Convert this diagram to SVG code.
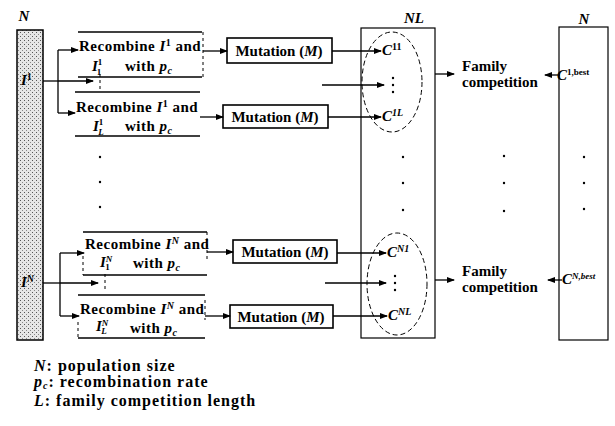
<svg xmlns="http://www.w3.org/2000/svg" width="615" height="426" viewBox="0 0 615 426">
<style>
.t{font-family:"Liberation Serif",serif;font-weight:bold;font-size:15px;fill:#000}
.r{letter-spacing:0.5px}
.i{font-style:italic}
.s{font-size:10px}
.ss{font-size:9px}
.lg{font-family:"Liberation Serif",serif;font-weight:bold;font-size:16px;letter-spacing:1px;fill:#000}
.ln{stroke:#000;stroke-width:1.3;fill:none}
.ar{stroke:#000;stroke-width:1.3;fill:none;marker-end:url(#ah)}
.bx{stroke:#000;stroke-width:1.6;fill:none}
.sd{stroke:#000;stroke-width:1;fill:none;stroke-dasharray:3 3}
.el{stroke:#000;stroke-width:1;fill:none;stroke-dasharray:5 3}
.dot{fill:#000}
</style>
<defs>
<marker id="ah" viewBox="0 0 8 6" refX="7" refY="3" markerWidth="8" markerHeight="6" markerUnits="userSpaceOnUse" orient="auto">
<path d="M0,0 L8,3 L0,6 z" fill="#000"/>
</marker>
<pattern id="stip" width="4" height="4" patternUnits="userSpaceOnUse">
<rect width="4" height="4" fill="#e6e6e6"/>
<rect x="0" y="0" width="1" height="1" fill="#555"/>
<rect x="2" y="2" width="1" height="1" fill="#888"/>
</pattern>
</defs>
<rect width="615" height="426" fill="#fff"/>

<g id="population">
<rect x="17" y="30" width="26" height="310" fill="url(#stip)" stroke="#000" stroke-width="1.5"/>
<text class="t i" x="24" y="21" text-anchor="middle">N</text>
<text class="t" x="21" y="85"><tspan class="i">I</tspan><tspan class="s" dy="-5">1</tspan></text>
<text class="t" x="21" y="287"><tspan class="i">I</tspan><tspan class="s i" dy="-5">N</tspan></text>
</g>

<g id="recomb1">
<line class="bx" x1="78" y1="32" x2="202" y2="32"/>
<line class="bx" x1="78" y1="77" x2="202" y2="77"/>
<line class="sd" x1="203" y1="32" x2="203" y2="77"/>
<text class="t r" x="79" y="51">Recombine <tspan class="i">I</tspan><tspan class="s" dy="-5">1</tspan><tspan dy="5"> and</tspan></text>
<text class="t" x="92" y="71"><tspan class="i">I</tspan><tspan class="ss" dy="-6">1</tspan><tspan class="ss" dx="-5" dy="10">1</tspan></text>
<text class="t r" x="125" y="71">with <tspan class="i">p</tspan><tspan class="s i" dy="3">c</tspan></text>
</g>
<g id="recomb2">
<line class="bx" x1="75" y1="92" x2="200" y2="92"/>
<line class="bx" x1="75" y1="136" x2="200" y2="136"/>
<text class="t r" x="76" y="112">Recombine <tspan class="i">I</tspan><tspan class="s" dy="-5">1</tspan><tspan dy="5"> and</tspan></text>
<text class="t" x="93" y="131"><tspan class="i">I</tspan><tspan class="ss" dy="-6">1</tspan><tspan class="ss i" dx="-5" dy="10">L</tspan></text>
<text class="t r" x="125" y="131">with <tspan class="i">p</tspan><tspan class="s i" dy="3">c</tspan></text>
</g>
<g id="recomb3">
<line class="bx" x1="83" y1="232" x2="207" y2="232"/>
<line class="bx" x1="83" y1="275" x2="207" y2="275"/>
<line class="sd" x1="207" y1="232" x2="207" y2="262"/>
<line class="sd" x1="83" y1="256" x2="83" y2="275"/>
<text class="t r" x="85" y="249">Recombine <tspan class="i">I</tspan><tspan class="s i" dy="-5">N</tspan><tspan dy="5"> and</tspan></text>
<text class="t" x="100" y="267"><tspan class="i">I</tspan><tspan class="ss i" dy="-5">N</tspan><tspan class="ss" dx="-7" dy="8">1</tspan></text>
<text class="t r" x="133" y="268">with <tspan class="i">p</tspan><tspan class="s i" dy="3">c</tspan></text>
</g>
<g id="recomb4">
<line class="bx" x1="78" y1="295" x2="205" y2="295"/>
<line class="bx" x1="78" y1="338" x2="205" y2="338"/>
<line class="sd" x1="205" y1="300" x2="205" y2="320"/>
<line class="sd" x1="78" y1="322" x2="78" y2="338"/>
<text class="t r" x="80" y="314">Recombine <tspan class="i">I</tspan><tspan class="s i" dy="-5">N</tspan><tspan dy="5"> and</tspan></text>
<text class="t" x="96" y="331"><tspan class="i">I</tspan><tspan class="ss i" dy="-5">N</tspan><tspan class="ss i" dx="-7" dy="8">L</tspan></text>
<text class="t r" x="130" y="333">with <tspan class="i">p</tspan><tspan class="s i" dy="3">c</tspan></text>
</g>

<g id="mut1"><rect class="bx" x="227" y="38" width="105" height="25"/><text class="t" x="279" y="56" text-anchor="middle">Mutation (<tspan class="i">M</tspan>)</text></g>
<g id="mut2"><rect class="bx" x="223" y="105" width="105" height="23"/><text class="t" x="275" y="122" text-anchor="middle">Mutation (<tspan class="i">M</tspan>)</text></g>
<g id="mut3"><rect class="bx" x="233" y="240" width="104" height="23"/><text class="t" x="285" y="257" text-anchor="middle">Mutation (<tspan class="i">M</tspan>)</text></g>
<g id="mut4"><rect class="bx" x="230" y="305" width="103" height="23"/><text class="t" x="281" y="322" text-anchor="middle">Mutation (<tspan class="i">M</tspan>)</text></g>

<g id="offspring">
<rect x="361" y="28" width="74" height="310" fill="none" stroke="#000" stroke-width="1.2"/>
<text class="t i" x="414" y="23" text-anchor="middle">NL</text>
<ellipse class="el" cx="392" cy="82" rx="30" ry="50"/>
<ellipse class="el" cx="397" cy="284" rx="30" ry="51"/>
<text class="t" x="382" y="55" font-size="13"><tspan class="i">C</tspan><tspan class="s" dy="-5">11</tspan></text>
<text class="t" x="382" y="121" font-size="13"><tspan class="i">C</tspan><tspan class="s i" dy="-5">1L</tspan></text>
<text class="t" x="387" y="257" font-size="13"><tspan class="i">C</tspan><tspan class="s i" dy="-5">N1</tspan></text>
<text class="t" x="388" y="320" font-size="13"><tspan class="i">C</tspan><tspan class="s i" dy="-5">NL</tspan></text>
<circle class="dot" cx="393" cy="78" r="1.2"/><circle class="dot" cx="393" cy="85" r="1.2"/><circle class="dot" cx="393" cy="92" r="1.2"/>
<circle class="dot" cx="395" cy="276" r="1.2"/><circle class="dot" cx="395" cy="283" r="1.2"/><circle class="dot" cx="395" cy="290" r="1.2"/>
</g>

<g id="family1"><text class="t" x="462" y="71">Family</text><text class="t" x="462" y="87">competition</text></g>
<g id="family2"><text class="t" x="462" y="276">Family</text><text class="t" x="462" y="292">competition</text></g>

<g id="newpop">
<rect x="559" y="27" width="49" height="313" fill="none" stroke="#000" stroke-width="1.2"/>
<text class="t i" x="584" y="24" text-anchor="middle">N</text>
<text class="t" x="557" y="80" font-size="13"><tspan class="i">C</tspan><tspan class="ss" dy="-5">1,best</tspan></text>
<text class="t" x="562" y="284" font-size="13"><tspan class="i">C</tspan><tspan class="ss i" dy="-5">N,best</tspan></text>
</g>

<g id="connectors">
<line class="ln" x1="43" y1="81" x2="58" y2="81"/>
<line class="ln" x1="58" y1="50" x2="58" y2="113"/>
<line class="ar" x1="58" y1="50" x2="78" y2="50"/>
<line class="ar" x1="58" y1="113" x2="75" y2="113"/>
<line class="ar" x1="58" y1="81" x2="93" y2="81"/>
<line class="sd" x1="100" y1="74" x2="100" y2="90"/>
<line class="ar" x1="203" y1="51" x2="227" y2="51"/>
<line class="ar" x1="200" y1="117" x2="223" y2="117"/>
<line class="ar" x1="332" y1="51" x2="381" y2="51"/>
<line class="ar" x1="328" y1="117" x2="381" y2="117"/>
<line class="ar" x1="322" y1="85" x2="384" y2="85"/>
<line class="ln" x1="43" y1="283" x2="60" y2="283"/>
<line class="ln" x1="60" y1="253" x2="60" y2="316"/>
<line class="ar" x1="60" y1="253" x2="84" y2="253"/>
<line class="ar" x1="60" y1="316" x2="79" y2="316"/>
<line class="ar" x1="60" y1="283" x2="98" y2="283"/>
<line class="sd" x1="105" y1="274" x2="105" y2="292"/>
<line class="ar" x1="207" y1="252" x2="233" y2="252"/>
<line class="ar" x1="205" y1="316" x2="230" y2="316"/>
<line class="ar" x1="337" y1="253" x2="386" y2="253"/>
<line class="ar" x1="333" y1="316" x2="387" y2="316"/>
<line class="ar" x1="325" y1="283" x2="386" y2="283"/>
<line class="ar" x1="435" y1="74" x2="454" y2="74"/>
<line class="ar" x1="435" y1="280" x2="454" y2="280"/>
<line class="ar" x1="560" y1="75" x2="545" y2="75"/>
<line class="ar" x1="562" y1="280" x2="548" y2="280"/>
</g>

<g id="ellipsis">
<circle class="dot" cx="100" cy="157" r="1.2"/><circle class="dot" cx="100" cy="182" r="1.2"/><circle class="dot" cx="100" cy="207" r="1.2"/>
<circle class="dot" cx="403" cy="157" r="1.2"/><circle class="dot" cx="403" cy="183" r="1.2"/><circle class="dot" cx="403" cy="210" r="1.2"/>
<circle class="dot" cx="504" cy="156" r="1.2"/><circle class="dot" cx="504" cy="183" r="1.2"/><circle class="dot" cx="504" cy="211" r="1.2"/>
<circle class="dot" cx="584" cy="157" r="1.2"/><circle class="dot" cx="584" cy="183" r="1.2"/><circle class="dot" cx="584" cy="209" r="1.2"/>
</g>

<g id="legend">
<text class="lg" x="34" y="371"><tspan class="i">N</tspan>: population size</text>
<text class="lg" x="34" y="387"><tspan class="i">p</tspan><tspan class="s i" dy="2">c</tspan><tspan dy="-2">: recombination rate</tspan></text>
<text class="lg" x="34" y="406"><tspan class="i">L</tspan>: family competition length</text>
</g>
</svg>
